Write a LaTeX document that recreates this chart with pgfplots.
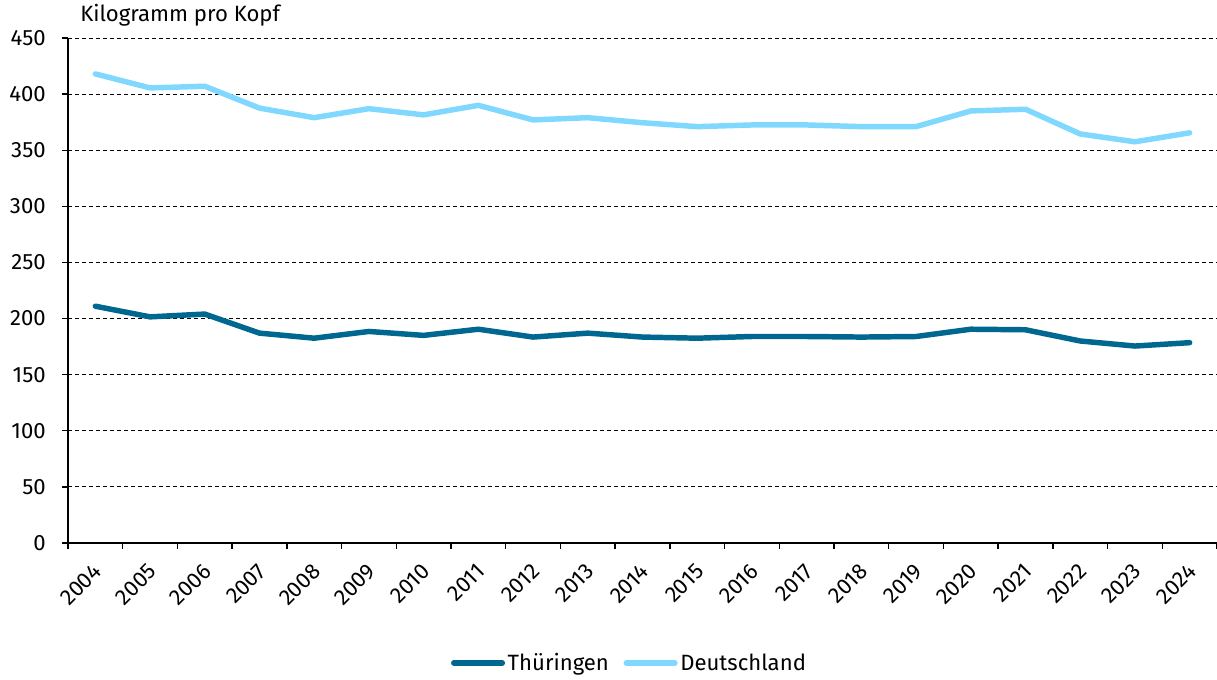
\documentclass[border=0pt]{standalone}
\usepackage{pgfplots}
\pgfplotsset{compat=1.18}
\usepackage{fontspec}
\setmainfont{Fira Sans}
\definecolor{thue}{HTML}{006890}
\definecolor{de}{HTML}{80D8FF}
\newcommand{\cf}{\fontsize{16.6}{19}\selectfont}
\begin{document}
\begin{tikzpicture}
\path[use as bounding box] (-51pt,-102.75pt) rectangle (861.75pt,407.25pt);
\begin{axis}[
  scale only axis, width=861.75pt, height=378.75pt,
  xmin=-0.5, xmax=20.5, ymin=0, ymax=450,
  axis x line=bottom, axis y line=left,
  axis line style={-, line width=1.1pt, black},
  tick style={line width=1pt, black},
  tick align=outside, major tick length=4.5pt,
  ytick={0,50,...,450},
  ymajorgrids, major grid style={dash pattern=on 3pt off 2.25pt, line width=0.7pt, black},
  xtick={-0.5,0.5,...,20.5}, xticklabels={},
  extra x ticks={0,1,...,20},
  extra x tick labels={2004,2005,2006,2007,2008,2009,2010,2011,2012,2013,2014,2015,2016,2017,2018,2019,2020,2021,2022,2023,2024},
  extra x tick style={tick style={draw=none}, tick label style={yshift=-14pt, xshift=2pt, rotate=45, anchor=east, inner sep=0pt}},
  /pgf/number format/assume math mode=true,
  every tick label/.append style={font=\cf},
  yticklabel style={anchor=east, inner sep=0pt, xshift=-12pt},
  title={Kilogramm pro Kopf},
  title style={at={(rel axis cs:0,1)}, anchor=base west, xshift=9pt, yshift=6pt, inner sep=0pt, font=\cf},
  legend columns=2,
  legend style={draw=none, at={(rel axis cs:0.489,0)}, anchor=center, yshift=-90pt, font=\cf,
    /tikz/every even column/.append style={column sep=9pt}},
  legend image code/.code={\draw[#1, line width=4pt, line cap=round] (2pt,0pt) -- (38.5pt,0pt);},
  line join=round,
]
\addplot[thue, line width=4.1pt, line cap=round] table {
x y
0 211
1 201.5
2 204
3 187
4 182.5
5 188.5
6 185
7 190.5
8 183.5
9 187
10 183.5
11 182.5
12 184
13 184
14 183.5
15 184
16 190.5
17 190
18 180
19 175.5
20 178.5
};
\addlegendentry{Thüringen}
\addplot[de, line width=4.1pt, line cap=round] table {
x y
0 418
1 405.5
2 407
3 387.5
4 379
5 387
6 381.5
7 390
8 377
9 379
10 374.5
11 371
12 372.5
13 372.5
14 371
15 371
16 385
17 386.5
18 364.5
19 357.5
20 365.5
};
\addlegendentry{Deutschland}
\end{axis}
\end{tikzpicture}
\end{document}
